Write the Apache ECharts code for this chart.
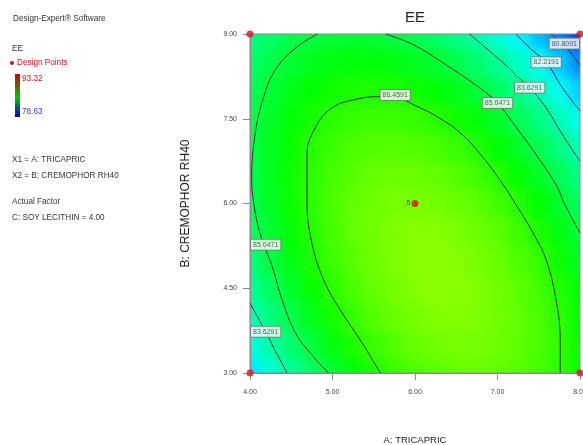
<!DOCTYPE html>
<html>
<head>
<meta charset="utf-8">
<script src="https://cdn.jsdelivr.net/npm/echarts@6/dist/echarts.min.js"></script>
<style>
  html, body { margin: 0; padding: 0; background: #fff; }
  #wrap { position: relative; width: 583px; height: 445px; overflow: hidden; }
  /* colour field sits under the plot frame, softened so the cells read as a smooth surface */
  #fieldClip { position: absolute; left: 250px; top: 34px; width: 330px; height: 339px; overflow: hidden; }
  #field { position: absolute; left: -20px; top: -20px; width: 370px; height: 379px; filter: blur(6px); }
  #main { position: absolute; left: 0; top: 0; width: 583px; height: 445px; }
</style>
</head>
<body>
<div id="wrap">
  <div id="fieldClip"><div id="field"></div></div>
  <div id="main"></div>
</div>
<script>
// Factor levels of the response grid
const tricapric = [4.00, 4.25, 4.50, 4.75, 5.00, 5.25, 5.50, 5.75, 6.00, 6.25, 6.50, 6.75, 7.00, 7.25, 7.50, 7.75, 8.00];
const cremophor = [3.0, 3.5, 4.0, 4.5, 5.0, 5.5, 6.0, 6.5, 7.0, 7.5, 8.0, 8.5, 9.0];

// Predicted EE (%) at soy lecithin = 4.00; one row per cremophor level (3.0 up to 9.0)
const eeB30 = [81.94, 82.91, 83.79, 84.58, 85.27, 85.86, 86.36, 86.77, 87.08, 87.30, 87.42, 87.44, 87.38, 87.21, 86.96, 86.61, 86.16];
const eeB35 = [82.66, 83.59, 84.42, 85.16, 85.80, 86.35, 86.81, 87.17, 87.43, 87.60, 87.68, 87.66, 87.55, 87.34, 87.04, 86.64, 86.15];
const eeB40 = [83.28, 84.17, 84.95, 85.65, 86.24, 86.75, 87.16, 87.47, 87.69, 87.82, 87.85, 87.78, 87.62, 87.37, 87.02, 86.58, 86.04];
const eeB45 = [83.81, 84.65, 85.39, 86.03, 86.59, 87.04, 87.41, 87.68, 87.85, 87.93, 87.91, 87.80, 87.60, 87.30, 86.90, 86.41, 85.83];
const eeB50 = [84.24, 85.03, 85.72, 86.32, 86.83, 87.24, 87.56, 87.78, 87.91, 87.94, 87.88, 87.72, 87.47, 87.13, 86.69, 86.15, 85.52];
const eeB55 = [84.56, 85.31, 85.96, 86.51, 86.97, 87.34, 87.61, 87.79, 87.87, 87.86, 87.75, 87.55, 87.25, 86.86, 86.37, 85.79, 85.12];
const eeB60 = [84.79, 85.49, 86.09, 86.60, 87.02, 87.34, 87.56, 87.69, 87.73, 87.67, 87.52, 87.27, 86.93, 86.49, 85.96, 85.33, 84.61];
const eeB65 = [84.92, 85.57, 86.13, 86.59, 86.96, 87.24, 87.42, 87.50, 87.49, 87.39, 87.19, 86.90, 86.51, 86.02, 85.45, 84.77, 84.01];
const eeB70 = [84.95, 85.56, 86.07, 86.49, 86.81, 87.04, 87.17, 87.21, 87.16, 87.01, 86.76, 86.42, 85.99, 85.46, 84.84, 84.12, 83.30];
const eeB75 = [84.88, 85.44, 85.91, 86.28, 86.56, 86.74, 86.83, 86.82, 86.72, 86.53, 86.24, 85.85, 85.37, 84.79, 84.13, 83.36, 82.50];
const eeB80 = [84.72, 85.23, 85.65, 85.98, 86.21, 86.35, 86.39, 86.34, 86.19, 85.95, 85.61, 85.18, 84.65, 84.03, 83.32, 82.51, 81.60];
const eeB85 = [84.45, 84.92, 85.29, 85.57, 85.76, 85.85, 85.85, 85.75, 85.56, 85.27, 84.89, 84.41, 83.84, 83.17, 82.41, 81.55, 80.60];
const eeB90 = [84.09, 84.51, 84.84, 85.07, 85.21, 85.26, 85.21, 85.06, 84.83, 84.49, 84.06, 83.54, 82.92, 82.21, 81.40, 80.50, 79.51];
const eeRows = [eeB30, eeB35, eeB40, eeB45, eeB50, eeB55, eeB60, eeB65, eeB70, eeB75, eeB80, eeB85, eeB90];

// Colour scale range (design point extremes)
const eeMax = 93.32;
const eeMin = 78.63;

// Contour paths as [tricapric, cremophor] points
const contour86 = [[5.58, 3.00], [5.36, 3.53], [5.12, 4.06], [4.91, 4.59], [4.75, 5.30], [4.69, 6.06], [4.69, 6.86], [4.79, 7.34], [4.99, 7.69], [5.27, 7.84], [5.55, 7.89], [5.76, 7.88], [5.98, 7.75], [6.30, 7.51], [6.58, 7.21], [6.86, 6.75], [7.07, 6.33], [7.19, 6.06], [7.43, 5.48], [7.59, 5.00], [7.71, 4.29], [7.76, 3.58], [7.76, 3.00]];
const contour85Left = [[4.82, 9.00], [4.55, 8.75], [4.30, 8.35], [4.15, 7.81], [4.06, 7.21], [4.02, 6.45], [4.04, 6.06], [4.12, 5.48], [4.27, 4.88], [4.39, 4.29], [4.55, 3.71], [4.75, 3.32], [4.95, 3.00]];
const contour85Right = [[5.64, 9.00], [5.98, 8.81], [6.38, 8.45], [6.79, 8.04], [7.00, 7.78], [7.19, 7.42], [7.47, 6.86], [7.71, 6.33], [7.82, 5.97], [8.00, 5.48]];
const contour83Left = [[4.00, 4.24], [4.10, 3.97], [4.19, 3.73], [4.30, 3.41], [4.45, 3.00]];
const contour83Right = [[6.66, 9.00], [6.90, 8.70], [7.10, 8.45], [7.26, 8.22], [7.39, 8.05], [7.59, 7.69], [7.79, 7.21], [8.00, 6.75]];
const contour82 = [[7.22, 9.00], [7.43, 8.70], [7.59, 8.50], [7.79, 8.04], [8.00, 7.64]];
const contour80 = [[7.65, 9.00], [7.81, 8.80], [8.00, 8.45]];

// Contour level labels: text, tricapric, cremophor
const levelText = ['86.4591', '85.0471', '83.6291', '85.0471', '83.6291', '82.2191', '80.8091'];
const levelA = [5.76, 4.19, 4.19, 7.00, 7.39, 7.59, 7.81];
const levelB = [7.92, 5.27, 3.73, 7.78, 8.05, 8.50, 8.83];

// Design points and their replicate counts
const designA = [4, 8, 4, 8, 6];
const designB = [9, 9, 3, 3, 6];
const designReps = [1, 1, 1, 1, 5];

// Axis ticks
const xTicks = [4, 5, 6, 7, 8];
const yTicks = [3.0, 4.5, 6.0, 7.5, 9.0];

const narrow = "'Liberation Sans Narrow', 'Liberation Sans', Arial, sans-serif";
const sans = "'Liberation Sans', Arial, sans-serif";

// ---- colour field ----
const field = echarts.init(document.getElementById('field'), null, { renderer: 'canvas' });
const cells = [];
eeRows.forEach((row, j) => row.forEach((v, i) => cells.push([i, j, v])));
// cell centres of the first and last columns/rows land on the plot edges
const colW = 330 / (tricapric.length - 1);
const rowH = 339 / (cremophor.length - 1);
field.setOption({
  animation: false,
  grid: { left: 20 - colW / 2, top: 20 - rowH / 2, width: colW * tricapric.length, height: rowH * cremophor.length, outerBoundsMode: 'none' },
  xAxis: { type: 'category', data: tricapric.map(String), show: false },
  yAxis: { type: 'category', data: cremophor.map(String), show: false },
  visualMap: {
    show: false, type: 'continuous', min: eeMin, max: eeMax, dimension: 2,
    inRange: { color: ['#0000ff', '#00ffff', '#00ff00', '#ffff00', '#ff0000'] }
  },
  series: [{ type: 'heatmap', data: cells, progressive: 0, itemStyle: { borderWidth: 0 } }]
});

// ---- frame, contours, points and annotations ----
const main = echarts.init(document.getElementById('main'), null, { renderer: 'canvas' });

const lineStyle = { color: '#333333', width: 1 };
const contourSeries = [contour86, contour85Left, contour85Right, contour83Left, contour83Right, contour82, contour80]
  .map(path => ({
    type: 'line', data: path, smooth: 0.4, showSymbol: false, symbol: 'none',
    lineStyle: lineStyle, z: 3, silent: true
  }));

const labelData = levelText.map((t, i) => [levelA[i], levelB[i], t]);
const designData = designA.map((a, i) => {
  const item = { value: [a, designB[i]] };
  if (designReps[i] > 1) {
    item.label = { show: true, position: 'left', distance: 1, formatter: String(designReps[i]),
      fontSize: 7, color: '#222', fontFamily: narrow };
  }
  return item;
});

const legendText = (text, x, y, color) => ({
  type: 'text', x: x, y: y,
  style: { text: text, fill: color || '#333', fontSize: 8.2, fontFamily: narrow, verticalAlign: 'middle' }
});

main.setOption({
  animation: false,
  grid: { left: 250, top: 34, width: 330, height: 339, show: true, borderColor: '#8a8a8a', borderWidth: 1, backgroundColor: 'transparent', outerBoundsMode: 'none', containLabel: false },
  xAxis: {
    type: 'value', min: xTicks[0], max: xTicks[xTicks.length - 1], interval: 1,
    name: 'A: TRICAPRIC', nameLocation: 'middle', nameGap: 62,
    nameTextStyle: { fontSize: 9.5, color: '#222', fontFamily: narrow },
    axisLine: { onZero: false, lineStyle: { color: '#8a8a8a' } },
    axisTick: { length: 7, lineStyle: { color: '#8a8a8a' } },
    axisLabel: { formatter: v => v.toFixed(2), fontSize: 7, color: '#444', margin: 16, fontFamily: narrow },
    splitLine: { show: false }
  },
  yAxis: {
    type: 'value', min: yTicks[0], max: yTicks[yTicks.length - 1], interval: 1.5,
    name: 'B: CREMOPHOR RH40', nameLocation: 'middle', nameRotate: 90, nameGap: 58,
    nameTextStyle: { fontSize: 12, color: '#222', fontFamily: sans },
    axisLine: { onZero: false, lineStyle: { color: '#8a8a8a' } },
    axisTick: { length: 7, lineStyle: { color: '#8a8a8a' } },
    axisLabel: { formatter: v => v.toFixed(2), fontSize: 7, color: '#444', margin: 13, fontFamily: narrow },
    splitLine: { show: false }
  },
  series: contourSeries.concat([
    {
      type: 'scatter', data: labelData, symbolSize: 1, z: 5, silent: true,
      itemStyle: { color: 'rgba(0,0,0,0)' },
      label: {
        show: true, position: 'inside', formatter: p => p.data[2],
        fontSize: 7, color: '#333', fontFamily: narrow,
        backgroundColor: '#ffffff', borderColor: '#7a7a7a', borderWidth: 1, padding: [2, 2, 1, 2]
      },
      labelLayout: { hideOverlap: false }
    },
    {
      type: 'scatter', data: designData, symbolSize: 7, clip: false, z: 6,
      itemStyle: { color: '#e0101a' }
    }
  ]),
  graphic: [
    legendText('Design-Expert\u00ae Software', 13, 19),
    legendText('EE', 12, 49),
    { type: 'circle', shape: { cx: 12, cy: 63, r: 2 }, style: { fill: '#d0101a' } },
    legendText('Design Points', 17, 63, '#d4141c'),
    {
      type: 'rect', shape: { x: 15, y: 74, width: 5, height: 43 },
      style: {
        fill: new echarts.graphic.LinearGradient(0, 0, 0, 1, [
          { offset: 0, color: '#c80000' }, { offset: 0.55, color: '#00c800' }, { offset: 1, color: '#0000c0' }
        ])
      }
    },
    legendText(eeMax.toFixed(2), 22, 79, '#d4141c'),
    legendText(eeMin.toFixed(2), 22, 112, '#3a3acc'),
    legendText('X1 = A: TRICAPRIC', 12, 160),
    legendText('X2 = B: CREMOPHOR RH40', 12, 176),
    legendText('Actual Factor', 12, 202),
    legendText('C: SOY LECITHIN = 4.00', 12, 218),
    {
      type: 'text', x: 415, y: 18,
      style: { text: 'EE', fill: '#222', fontSize: 15, fontFamily: sans, align: 'center', verticalAlign: 'middle' }
    }
  ]
});
</script>
</body>
</html>
